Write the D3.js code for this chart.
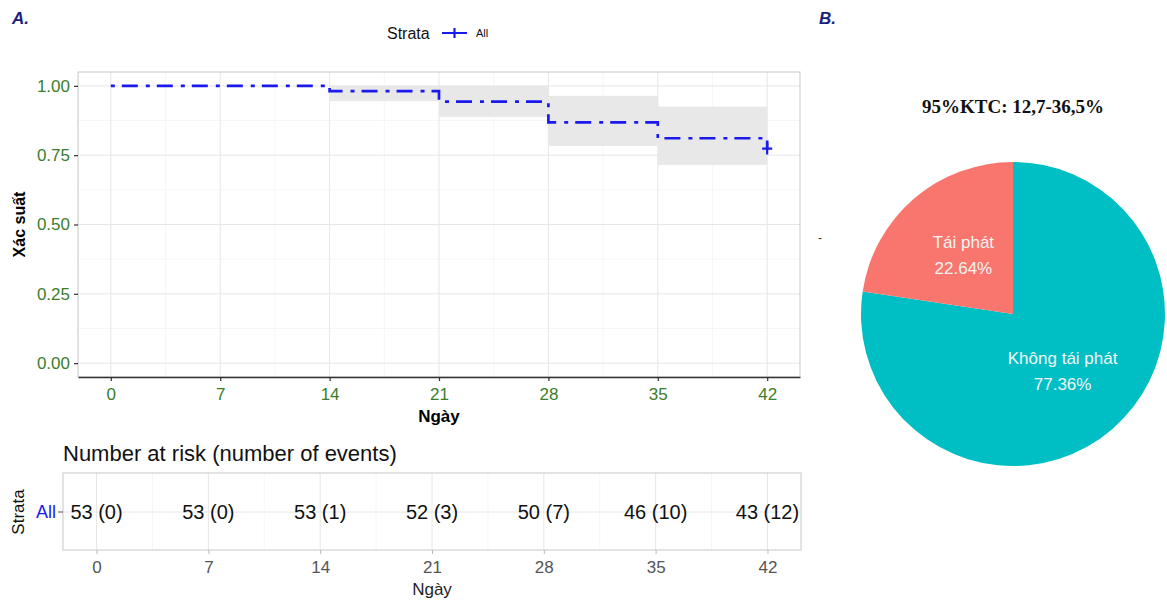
<!DOCTYPE html>
<html>
<head>
<meta charset="utf-8">
<script src="https://cdnjs.cloudflare.com/ajax/libs/d3/7.8.5/d3.min.js"></script>
<style>
  body { margin: 0; background: #fff; }
  text { font-family: "Liberation Sans", Arial, sans-serif; }
</style>
</head>
<body>
<svg id="chart" width="1167" height="603"></svg>
<script>
// Kaplan-Meier (panel A)
var kmTimes = [0, 14, 21, 28, 35, 42];
var kmSurv = [1, 0.981, 0.943, 0.868, 0.811, 0.774];
// 95% CI, one value per interval [kmTimes[i], kmTimes[i+1])
var ciLower = [1, 0.945, 0.888, 0.783, 0.715];
var ciUpper = [1, 1, 1, 0.964, 0.925];
var censorTimes = [42];
var censorSurv = [0.774];

var xTicks = [0, 7, 14, 21, 28, 35, 42];
var yTicks = [0, 0.25, 0.5, 0.75, 1];
var yTickLabels = ["0.00", "0.25", "0.50", "0.75", "1.00"];

// risk table
var riskTimes = [0, 7, 14, 21, 28, 35, 42];
var atRisk = [53, 53, 53, 52, 50, 46, 43];
var nEvents = [0, 0, 1, 3, 7, 10, 12];

// pie (panel B)
var pieLabels = ["Không tái phát", "Tái phát"];
var pieValues = [77.36, 22.64];
var pieColors = ["#00BFC4", "#F8766D"];

var svg = d3.select("#chart");
var green = "#3b7d2c";
var blue = "#1a1aee";

// ---------- panel A: survival curve ----------
var x = d3.scaleLinear().domain([-2.1, 44.1]).range([78, 800]);
var y = d3.scaleLinear().domain([-0.05, 1.05]).range([377, 72]);

var xMinor = xTicks.slice(1).map(function(t, i) { return (t + xTicks[i]) / 2; });
var yMinor = yTicks.slice(1).map(function(t, i) { return (t + yTicks[i]) / 2; });

var plot = svg.append("g").attr("id", "km");

plot.selectAll(".xminor").data(xMinor).enter().append("line")
    .attr("x1", function(d) { return x(d); }).attr("x2", function(d) { return x(d); })
    .attr("y1", y.range()[1]).attr("y2", y.range()[0])
    .attr("stroke", "#f2f2f2").attr("stroke-width", 0.7);
plot.selectAll(".yminor").data(yMinor).enter().append("line")
    .attr("y1", function(d) { return y(d); }).attr("y2", function(d) { return y(d); })
    .attr("x1", x.range()[0]).attr("x2", x.range()[1])
    .attr("stroke", "#f2f2f2").attr("stroke-width", 0.7);
plot.selectAll(".xmajor").data(xTicks).enter().append("line")
    .attr("x1", function(d) { return x(d); }).attr("x2", function(d) { return x(d); })
    .attr("y1", y.range()[1]).attr("y2", y.range()[0])
    .attr("stroke", "#e6e6e6").attr("stroke-width", 1);
plot.selectAll(".ymajor").data(yTicks).enter().append("line")
    .attr("y1", function(d) { return y(d); }).attr("y2", function(d) { return y(d); })
    .attr("x1", x.range()[0]).attr("x2", x.range()[1])
    .attr("stroke", "#e6e6e6").attr("stroke-width", 1);

// confidence band
plot.selectAll(".ci").data(ciLower).enter().append("rect")
    .attr("x", function(d, i) { return x(kmTimes[i]); })
    .attr("width", function(d, i) { return x(kmTimes[i + 1]) - x(kmTimes[i]); })
    .attr("y", function(d, i) { return y(ciUpper[i]); })
    .attr("height", function(d, i) { return y(ciLower[i]) - y(ciUpper[i]); })
    .attr("fill", "#e8e8e8");

// survival step line
var kmData = kmTimes.map(function(t, i) { return [t, kmSurv[i]]; });
var line = d3.line()
    .x(function(d) { return x(d[0]); })
    .y(function(d) { return y(d[1]); })
    .curve(d3.curveStepAfter);
plot.append("path")
    .datum(kmData)
    .attr("d", line)
    .attr("fill", "none")
    .attr("stroke", blue)
    .attr("stroke-width", 2.7)
    .attr("stroke-dasharray", "4,7,16,8");

// censor marks
censorTimes.forEach(function(t, i) {
  var cx = x(t), cy = y(censorSurv[i]);
  plot.append("path")
      .attr("d", "M" + (cx - 5) + "," + cy + "H" + (cx + 5) + "M" + cx + "," + (cy - 6) + "V" + (cy + 6))
      .attr("stroke", blue).attr("stroke-width", 2.2);
});

// panel border
plot.append("rect")
    .attr("x", x.range()[0]).attr("y", y.range()[1])
    .attr("width", x.range()[1] - x.range()[0])
    .attr("height", y.range()[0] - y.range()[1])
    .attr("fill", "none").attr("stroke", "#c8c8c8").attr("stroke-width", 1);

// axes
var yAxis = plot.append("g")
    .attr("transform", "translate(" + x.range()[0] + ",0)")
    .call(d3.axisLeft(y).tickValues(yTicks).tickFormat(function(d, i) { return yTickLabels[i]; }).tickSize(4).tickSizeOuter(0));
yAxis.select(".domain").remove();
yAxis.selectAll(".tick line").attr("stroke", "#333").attr("stroke-width", 1.2);
yAxis.selectAll("text").attr("fill", green).attr("font-size", 17).attr("dx", -1)
    .attr("font-family", "Liberation Sans, Arial, sans-serif");

var xAxis = plot.append("g")
    .attr("transform", "translate(0," + y.range()[0] + ")")
    .call(d3.axisBottom(x).tickValues(xTicks).tickSize(4).tickSizeOuter(0));
xAxis.select(".domain").attr("stroke", "#333").attr("stroke-width", 1.4);
xAxis.selectAll(".tick line").attr("stroke", "#333").attr("stroke-width", 1.2);
xAxis.selectAll("text").attr("fill", green).attr("font-size", 17).attr("dy", "0.95em")
    .attr("font-family", "Liberation Sans, Arial, sans-serif");

svg.append("text")
    .attr("x", (x.range()[0] + x.range()[1]) / 2).attr("y", 422)
    .attr("text-anchor", "middle").attr("font-size", 17).attr("font-weight", "bold")
    .text("Ngày");
svg.append("text")
    .attr("transform", "translate(25," + ((y.range()[0] + y.range()[1]) / 2) + ") rotate(-90)")
    .attr("text-anchor", "middle").attr("font-size", 16).attr("font-weight", "bold")
    .text("Xác suất");

// legend
svg.append("text").attr("x", 387).attr("y", 39).attr("font-size", 16).attr("fill", "#111").text("Strata");
svg.append("path")
    .attr("d", "M442,33H467M454.5,28V38")
    .attr("stroke", blue).attr("stroke-width", 2.2);
svg.append("text").attr("x", 476).attr("y", 37).attr("font-size", 11).attr("fill", "#111").text("All");

// ---------- risk table ----------
var xt = d3.scaleLinear().domain([-2.1, 44.1]).range([63, 801]);
var tTop = 473, tBottom = 550, rowY = 512;
var table = svg.append("g").attr("id", "risk");

svg.append("text").attr("x", 63).attr("y", 461).attr("font-size", 22).attr("fill", "#111")
    .text("Number at risk (number of events)");

var tMinor = riskTimes.slice(1).map(function(t, i) { return (t + riskTimes[i]) / 2; });
table.selectAll(".tminor").data(tMinor).enter().append("line")
    .attr("x1", function(d) { return xt(d); }).attr("x2", function(d) { return xt(d); })
    .attr("y1", tTop).attr("y2", tBottom)
    .attr("stroke", "#f2f2f2").attr("stroke-width", 0.7);
table.selectAll(".tmajor").data(riskTimes).enter().append("line")
    .attr("x1", function(d) { return xt(d); }).attr("x2", function(d) { return xt(d); })
    .attr("y1", tTop).attr("y2", tBottom)
    .attr("stroke", "#e6e6e6").attr("stroke-width", 1);
table.append("line")
    .attr("x1", xt.range()[0]).attr("x2", xt.range()[1])
    .attr("y1", rowY).attr("y2", rowY)
    .attr("stroke", "#e6e6e6").attr("stroke-width", 1);
table.append("rect")
    .attr("x", xt.range()[0]).attr("y", tTop)
    .attr("width", xt.range()[1] - xt.range()[0]).attr("height", tBottom - tTop)
    .attr("fill", "none").attr("stroke", "#c8c8c8").attr("stroke-width", 1);

table.selectAll(".risk").data(atRisk).enter().append("text")
    .attr("x", function(d, i) { return xt(riskTimes[i]); })
    .attr("y", rowY + 7)
    .attr("text-anchor", "middle").attr("font-size", 20).attr("fill", "#111")
    .text(function(d, i) { return d + " (" + nEvents[i] + ")"; });

var tAxis = table.append("g")
    .attr("transform", "translate(0," + tBottom + ")")
    .call(d3.axisBottom(xt).tickValues(riskTimes).tickSize(4).tickSizeOuter(0));
tAxis.select(".domain").remove();
tAxis.selectAll(".tick line").attr("stroke", "#bbb");
tAxis.selectAll("text").attr("fill", "#555").attr("font-size", 17).attr("dy", "0.95em")
    .attr("font-family", "Liberation Sans, Arial, sans-serif");

table.append("line").attr("x1", 58).attr("x2", 63).attr("y1", rowY).attr("y2", rowY).attr("stroke", "#555");
svg.append("text").attr("x", 56).attr("y", rowY + 6).attr("text-anchor", "end")
    .attr("font-size", 18).attr("fill", blue).text("All");
svg.append("text")
    .attr("transform", "translate(24," + rowY + ") rotate(-90)")
    .attr("text-anchor", "middle").attr("font-size", 17).attr("fill", "#111")
    .text("Strata");
svg.append("text").attr("x", xt(21)).attr("y", 595)
    .attr("text-anchor", "middle").attr("font-size", 17).attr("fill", "#222")
    .text("Ngày");

// panel letters
svg.append("text").attr("x", 12).attr("y", 24).attr("font-size", 17)
    .attr("font-weight", "bold").attr("font-style", "italic").attr("fill", "#1c1f7a").text("A.");
svg.append("text").attr("x", 819).attr("y", 24).attr("font-size", 17)
    .attr("font-weight", "bold").attr("font-style", "italic").attr("fill", "#1c1f7a").text("B.");

// ---------- panel B: pie ----------
var cx = 1013, cy = 314, R = 152;
var pie = d3.pie().sort(null).value(function(d) { return d; });
var arc = d3.arc().innerRadius(0).outerRadius(R);
var arcs = pie(pieValues);

var pg = svg.append("g").attr("transform", "translate(" + cx + "," + cy + ")");
pg.selectAll("path").data(arcs).enter().append("path")
    .attr("d", arc)
    .attr("fill", function(d, i) { return pieColors[i]; });

var lbl = pg.selectAll(".lbl").data(arcs).enter().append("text")
    .attr("transform", function(d) { return "translate(" + arc.centroid(d) + ")"; })
    .attr("text-anchor", "middle").attr("font-size", 17).attr("fill", "#f4f4f4");
lbl.append("tspan").attr("x", 0).attr("y", -8).text(function(d, i) { return pieLabels[i]; });
lbl.append("tspan").attr("x", 0).attr("y", 18).text(function(d, i) { return pieValues[i].toFixed(2) + "%"; });

svg.append("text").attr("x", cx).attr("y", 113)
    .attr("text-anchor", "middle").attr("font-size", 19).attr("font-weight", "bold")
    .style("font-family", "'Liberation Serif', 'Times New Roman', serif").attr("fill", "#111")
    .text("95%KTC: 12,7-36,5%");

svg.append("text").attr("x", 818).attr("y", 242).attr("font-size", 12).attr("fill", "#333").text("-");
</script>
</body>
</html>
